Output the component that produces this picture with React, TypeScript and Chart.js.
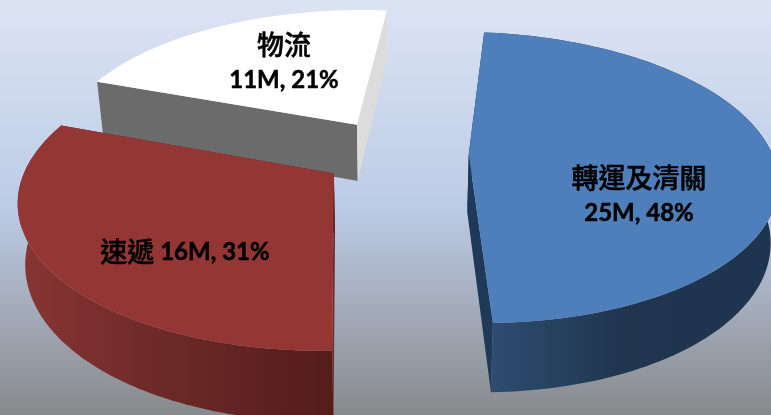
import React, { useEffect, useRef } from "react";
import { Chart, registerables } from "chart.js";

Chart.register(...registerables);

const categories = ["轉運及清關", "速遞", "物流"];
const revenueMillions = [25, 16, 11];
const sharePercent = [48, 31, 21];
const topColors = ["#4f7fba", "#943634", "#ffffff"];
const startCutColors = ["#1f3a58", "#6e2a28", "#6b6b6b"];
const endCutColors = ["#1f3a58", "#5a201e", "#dcdcdc"];
const rimStops = [
  [[493, "#2d4c70"], [620, "#20364f"], [771, "#1f344e"]],
  [[25, "#873533"], [130, "#722c2a"], [334, "#531d1b"]],
  [[0, "#dddddd"], [771, "#dddddd"]],
] as [number, string][][];
const labelLines = [
  [`${categories[0]}`, `${revenueMillions[0]}M, ${sharePercent[0]}%`],
  [`${categories[1]} ${revenueMillions[1]}M, ${sharePercent[1]}%`],
  [`${categories[2]}`, `${revenueMillions[2]}M, ${sharePercent[2]}%`],
];
const labelCenters = [
  [639, 178],
  [185, 252],
  [284, 45],
];

// perspective view of the pie's plane
const view = { cx: 395, cy: 153, R: 303, Ra: 141.5, k: 0.16, H: 58, g: 0.98 };

function project(X: number, Y: number, low: boolean) {
  const w = 1 + view.k * Y;
  let x = view.cx + (view.R * X) / w;
  let y = view.cy - (view.Ra * Y) / w;
  if (low) {
    y += view.H / w;
    x = view.cx + (x - view.cx) * view.g;
  }
  return [x, y];
}

const pie3d = {
  id: "pie3d",
  beforeDraw(chart: any) {
    const { ctx, width, height } = chart;
    const bg = ctx.createLinearGradient(0, 0, 0, height);
    bg.addColorStop(0, "#dce4f3");
    bg.addColorStop(0.5, "#bccbe6");
    bg.addColorStop(0.75, "#a3abb9");
    bg.addColorStop(1, "#88898c");
    ctx.fillStyle = bg;
    ctx.fillRect(0, 0, width, height);
  },
  beforeDatasetDraw(chart: any) {
    const { ctx } = chart;
    const arcs = chart.getDatasetMeta(0).data;
    for (let i = arcs.length - 1; i >= 0; i--) {
      const arc = arcs[i];
      const r = arc.outerRadius;
      const mid = (arc.startAngle + arc.endAngle) / 2;
      const e = arc.options.offset / r;
      const ox = e * Math.cos(mid);
      const oy = -e * Math.sin(mid);
      const pts: [number, number][] = [];
      const n = 120;
      for (let j = 0; j <= n; j++) {
        const a = arc.startAngle + ((arc.endAngle - arc.startAngle) * j) / n;
        pts.push([ox + Math.cos(a), oy - Math.sin(a)]);
      }
      const fill = (poly: number[][], style: any) => {
        ctx.beginPath();
        poly.forEach((p, q) => (q ? ctx.lineTo(p[0], p[1]) : ctx.moveTo(p[0], p[1])));
        ctx.closePath();
        ctx.fillStyle = style;
        ctx.fill();
      };
      const a0 = project(ox, oy, false);
      const a1 = project(ox, oy, true);
      const first = pts[0];
      const last = pts[n];
      const s0 = rimStops[i][0][0];
      const s1 = rimStops[i][rimStops[i].length - 1][0];
      const grad = ctx.createLinearGradient(s0, 0, s1, 0);
      rimStops[i].forEach(([x, c]) => grad.addColorStop((x - s0) / (s1 - s0), c));
      fill(
        [...pts.map((p) => project(p[0], p[1], false)), ...pts.slice().reverse().map((p) => project(p[0], p[1], true))],
        grad
      );
      fill([a0, project(first[0], first[1], false), project(first[0], first[1], true), a1], startCutColors[i]);
      fill([a0, project(last[0], last[1], false), project(last[0], last[1], true), a1], endCutColors[i]);
      fill([a0, ...pts.map((p) => project(p[0], p[1], false))], arc.options.backgroundColor);
    }
    return false;
  },
  afterDatasetsDraw(chart: any) {
    const { ctx } = chart;
    ctx.fillStyle = "#000";
    ctx.strokeStyle = "#000";
    ctx.lineWidth = 0.5;
    ctx.textBaseline = "middle";
    const lineHeight = 35;
    labelLines.forEach((lines, i) => {
      lines.forEach((line, l) => {
        const [x, y] = labelCenters[i];
        drawMixed(ctx, line, x, y + l * lineHeight);
      });
    });
  },
};

function drawMixed(ctx: CanvasRenderingContext2D, text: string, x: number, y: number) {
  const runs = text.match(/[\u4e00-\u9fff]+|[^\u4e00-\u9fff]+/g) || [];
  const fontOf = (run: string) =>
    /[\u4e00-\u9fff]/.test(run) ? '500 27px "Noto Sans CJK TC"' : '700 24px Lato';
  let total = 0;
  runs.forEach((run) => {
    ctx.font = fontOf(run);
    total += ctx.measureText(run).width;
  });
  let cur = x - total / 2;
  ctx.textAlign = "left";
  runs.forEach((run) => {
    ctx.font = fontOf(run);
    ctx.fillText(run, cur, y);
    ctx.strokeText(run, cur, y);
    cur += ctx.measureText(run).width;
  });
}

export default function App() {
  const ref = useRef<HTMLCanvasElement>(null);
  useEffect(() => {
    const chart = new Chart(ref.current!, {
      type: "pie",
      data: {
        labels: categories,
        datasets: [
          {
            data: sharePercent,
            backgroundColor: topColors,
            borderWidth: 0,
            offset: 45,
          },
        ],
      },
      options: {
        animation: false,
        responsive: false,
        rotation: 5.6,
        plugins: { legend: { display: false }, tooltip: { enabled: false } },
      },
      plugins: [pie3d],
    });
    return () => chart.destroy();
  }, []);
  return (
    <div style={{ position: "absolute", left: 0, top: 0, width: 771, height: 415, overflow: "hidden" }}>
      <canvas ref={ref} width={771} height={415} style={{ display: "block" }} />
    </div>
  );
}
